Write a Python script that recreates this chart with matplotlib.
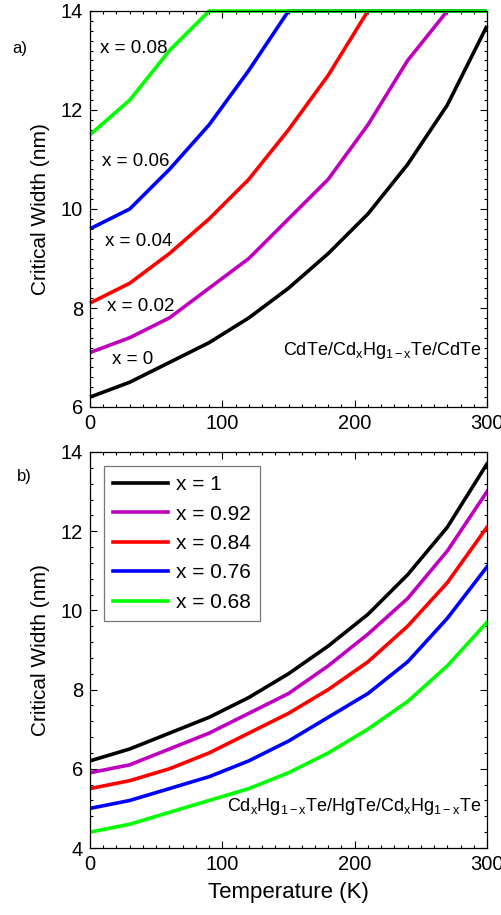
import numpy as np
import matplotlib
matplotlib.use('Agg')
import matplotlib.pyplot as plt
from matplotlib.ticker import MultipleLocator

plt.rcParams['font.family'] = ['Liberation Sans', 'DejaVu Sans']
plt.rcParams['mathtext.fontset'] = 'custom'
plt.rcParams['mathtext.rm'] = 'Liberation Sans'
plt.rcParams['mathtext.it'] = 'Liberation Sans'

# temperature grid (K)
temp = [0, 30, 60, 90, 120, 150, 180, 210, 240, 270, 300]

# a) CdTe/CdxHg1-xTe/CdTe, values saturate at 14 nm
top_labels = ['x = 0', 'x = 0.02', 'x = 0.04', 'x = 0.06', 'x = 0.08']
top_x0 = [6.2, 6.5, 6.9, 7.3, 7.8, 8.4, 9.1, 9.9, 10.9, 12.1, 13.7]
top_x002 = [7.1, 7.4, 7.8, 8.4, 9.0, 9.8, 10.6, 11.7, 13.0, 14.0, 14.0]
top_x004 = [8.1, 8.5, 9.1, 9.8, 10.6, 11.6, 12.7, 14.0, 14.0, 14.0, 14.0]
top_x006 = [9.6, 10.0, 10.8, 11.7, 12.8, 14.0, 14.0, 14.0, 14.0, 14.0, 14.0]
top_x008 = [11.5, 12.2, 13.2, 14.0, 14.0, 14.0, 14.0, 14.0, 14.0, 14.0, 14.0]

# b) CdxHg1-xTe/HgTe/CdxHg1-xTe
bot_labels = ['x = 1', 'x = 0.92', 'x = 0.84', 'x = 0.76', 'x = 0.68']
bot_x1 = [6.2, 6.5, 6.9, 7.3, 7.8, 8.4, 9.1, 9.9, 10.9, 12.1, 13.7]
bot_x092 = [5.9, 6.1, 6.5, 6.9, 7.4, 7.9, 8.6, 9.4, 10.3, 11.5, 13.0]
bot_x084 = [5.5, 5.7, 6.0, 6.4, 6.9, 7.4, 8.0, 8.7, 9.6, 10.7, 12.1]
bot_x076 = [5.0, 5.2, 5.5, 5.8, 6.2, 6.7, 7.3, 7.9, 8.7, 9.8, 11.1]
bot_x068 = [4.4, 4.6, 4.9, 5.2, 5.5, 5.9, 6.4, 7.0, 7.7, 8.6, 9.7]

colors = ['black', '#BF00BF', '#FF0000', '#0000FF', '#00FF00']

fig = plt.figure(figsize=(5.02, 9.15), dpi=100)
ax1 = fig.add_axes([90/502, 1-407/915, 397/502, 396/915])
ax2 = fig.add_axes([90/502, 1-848/915, 397/502, 396/915])

def style(ax, ymin, ymax, yminor):
    ax.set_xlim(0, 300)
    ax.set_ylim(ymin, ymax)
    ax.xaxis.set_major_locator(MultipleLocator(100))
    ax.xaxis.set_minor_locator(MultipleLocator(10))
    ax.yaxis.set_major_locator(MultipleLocator(2))
    ax.yaxis.set_minor_locator(MultipleLocator(yminor))
    ax.tick_params(which='both', direction='in', top=True, right=True,
                   labelsize=14.5, width=0.8, pad=5)
    ax.tick_params(which='major', length=5)
    ax.tick_params(which='minor', length=2.5)
    for s in ax.spines.values():
        s.set_linewidth(0.9)
    ax.set_ylabel('Critical Width (nm)', fontsize=15, labelpad=8)

# panel a
top_series = [top_x0, top_x002, top_x004, top_x006, top_x008]
for ys, c in zip(top_series, colors):
    ax1.plot(temp, ys, color=c, lw=2.6, clip_on=False, solid_capstyle='butt')
style(ax1, 6, 14, 0.2)

lab_pos = [(17, 6.95), (13, 8.04), (11, 9.35), (9, 10.95), (7.5, 13.25)]
for txt, (px, py) in zip(top_labels, lab_pos):
    ax1.text(px, py, txt, fontsize=13.5, va='center', ha='left')
ax1.text(296, 7.15, r'CdTe/Cd$_\mathregular{x}$Hg$_\mathregular{1-x}$Te/CdTe',
         fontsize=13, ha='right', va='center')
fig.text(12/502, 1-48/915, 'a)', fontsize=12, va='center')

# panel b
bot_series = [bot_x1, bot_x092, bot_x084, bot_x076, bot_x068]
for ys, c, lab in zip(bot_series, colors, bot_labels):
    ax2.plot(temp, ys, color=c, lw=2.6, label=lab)
style(ax2, 4, 14, 0.4)
ax2.set_xlabel('Temperature (K)', fontsize=16, labelpad=6)
leg = ax2.legend(loc='upper left', bbox_to_anchor=(0.035, 0.965), fontsize=15,
                 handlelength=2.65, handletextpad=0.35, labelspacing=0.5,
                 fancybox=False, borderpad=0.45, borderaxespad=0)
leg.get_frame().set_edgecolor('#555555')
leg.get_frame().set_linewidth(0.9)
ax2.text(296, 5.05,
         r'Cd$_\mathregular{x}$Hg$_\mathregular{1-x}$Te/HgTe/Cd$_\mathregular{x}$Hg$_\mathregular{1-x}$Te',
         fontsize=13, ha='right', va='center')
fig.text(17/502, 1-477/915, 'b)', fontsize=12, va='center')

fig.savefig('out.png', dpi=100)
